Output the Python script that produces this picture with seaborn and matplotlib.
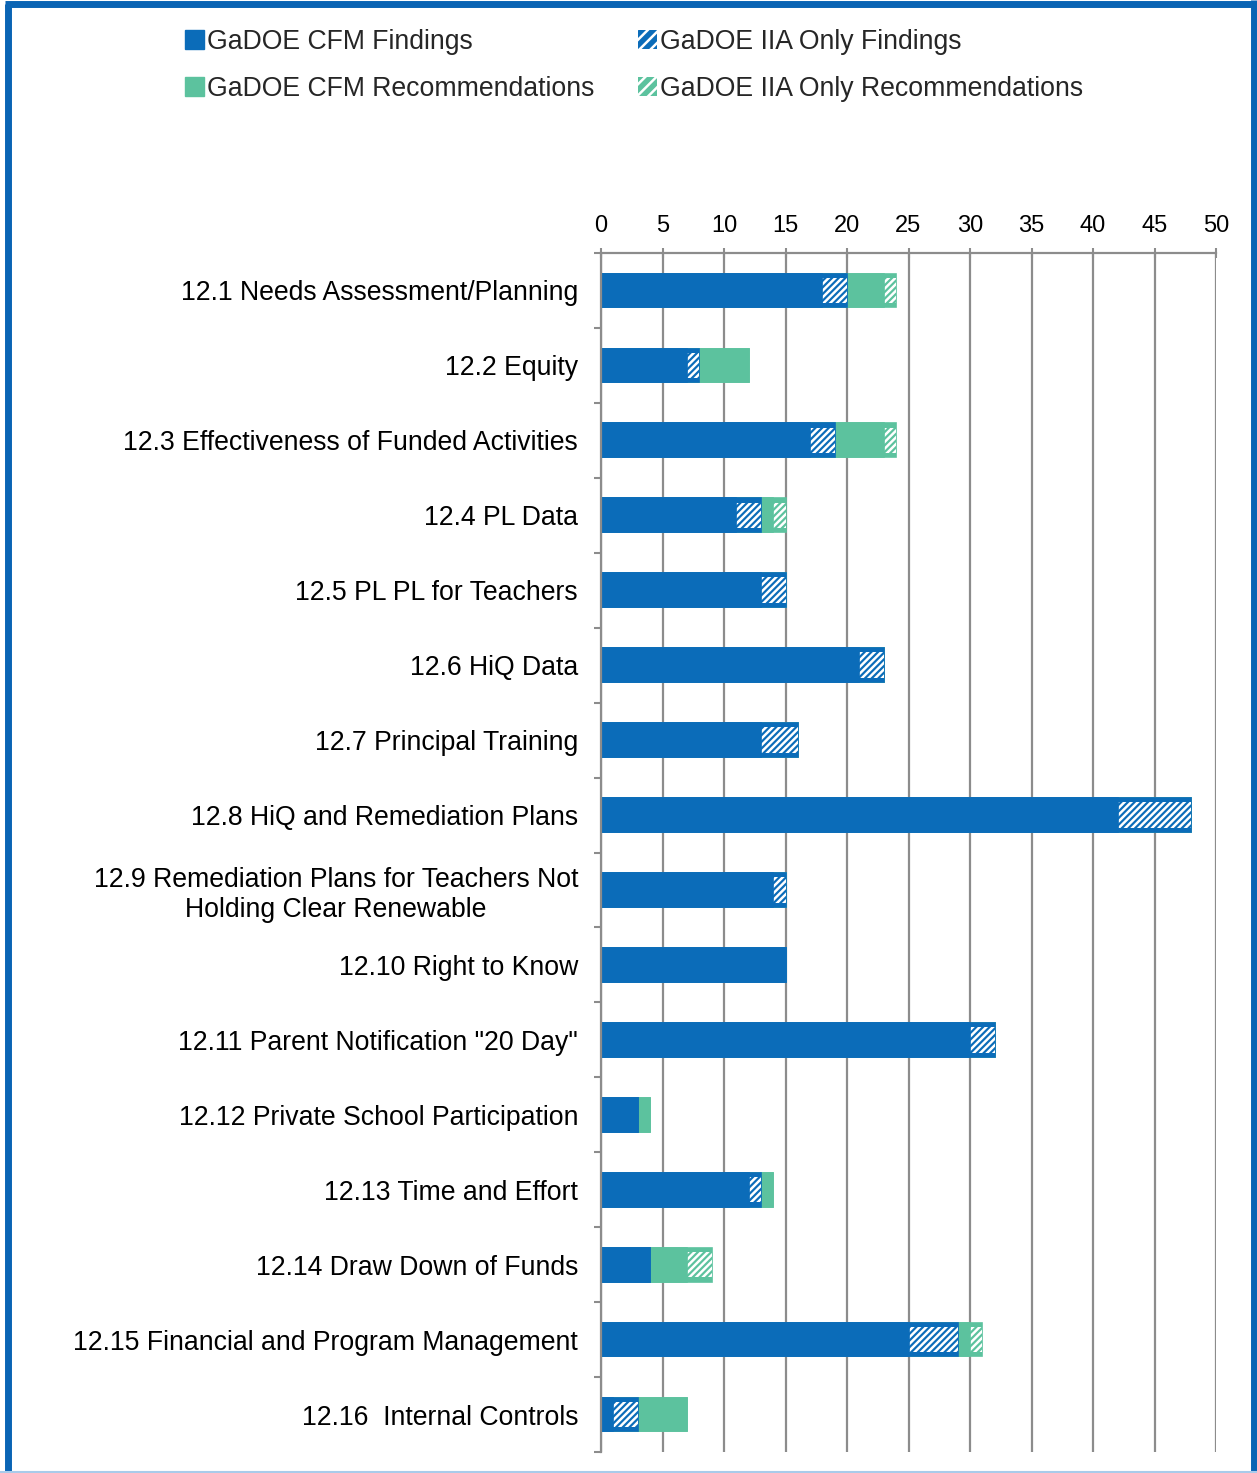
import matplotlib
matplotlib.use("Agg")
import matplotlib.pyplot as plt
import matplotlib.patches as mpatches
from matplotlib.lines import Line2D
import seaborn as sns
import pandas as pd
import numpy as np

categories = [
    "12.1 Needs Assessment/Planning",
    "12.2 Equity",
    "12.3 Effectiveness of Funded Activities",
    "12.4 PL Data",
    "12.5 PL PL for Teachers",
    "12.6 HiQ Data",
    "12.7 Principal Training",
    "12.8 HiQ and Remediation Plans",
    "12.9 Remediation Plans for Teachers Not\nHolding Clear Renewable",
    "12.10 Right to Know",
    "12.11 Parent Notification \"20 Day\"",
    "12.12 Private School Participation",
    "12.13 Time and Effort",
    "12.14 Draw Down of Funds",
    "12.15 Financial and Program Management",
    "12.16  Internal Controls",
]
cfm_findings = [18, 7, 17, 11, 13, 21, 13, 42, 14, 15, 30, 3, 12, 4, 25, 1]
iia_findings = [2, 1, 2, 2, 2, 2, 3, 6, 1, 0, 2, 0, 1, 0, 4, 2]
cfm_recs = [3, 4, 4, 1, 0, 0, 0, 0, 0, 0, 0, 1, 1, 3, 1, 4]
iia_recs = [1, 0, 1, 1, 0, 0, 0, 0, 0, 0, 0, 0, 0, 2, 1, 0]
series_names = ["GaDOE CFM Findings", "GaDOE IIA Only Findings",
                "GaDOE CFM Recommendations", "GaDOE IIA Only Recommendations"]
x_ticks = [0, 5, 10, 15, 20, 25, 30, 35, 40, 45, 50]

BLUE = "#0B6CB9"
GREEN = "#5CC29E"
GRAY = "#8C8C8C"

c1 = np.array(cfm_findings)
c2 = c1 + np.array(iia_findings)
c3 = c2 + np.array(cfm_recs)
c4 = c3 + np.array(iia_recs)
df = pd.DataFrame({"cat": categories, "c1": c1, "c2": c2, "c3": c3, "c4": c4})

sns.set_theme(style="white")
plt.rcParams["font.family"] = ["Liberation Sans", "DejaVu Sans"]
plt.rcParams["hatch.linewidth"] = 1.8

fig = plt.figure(figsize=(12.57, 14.73), dpi=100)
ax = fig.add_axes([601 / 1257, 1 - 1452 / 1473, (1216 - 601) / 1257, (1452 - 253) / 1473])

W = 0.45
WH = 0.34
HATCH = "/////"
# layered cumulative bars (largest first)
sns.barplot(data=df, y="cat", x="c4", color=GREEN, orient="h", width=W, ax=ax,
            saturation=1, edgecolor=GREEN, linewidth=1.2)
sns.barplot(data=df, y="cat", x="c4", orient="h", width=WH, ax=ax, saturation=1,
            facecolor="none", edgecolor="white", linewidth=0, hatch=HATCH)
sns.barplot(data=df, y="cat", x="c3", color=GREEN, orient="h", width=W, ax=ax,
            saturation=1, edgecolor=GREEN, linewidth=1.2)
sns.barplot(data=df, y="cat", x="c2", color=BLUE, orient="h", width=W, ax=ax,
            saturation=1, edgecolor=BLUE, linewidth=1.2)
sns.barplot(data=df, y="cat", x="c2", orient="h", width=WH, ax=ax, saturation=1,
            facecolor="none", edgecolor="white", linewidth=0, hatch=HATCH)
sns.barplot(data=df, y="cat", x="c1", color=BLUE, orient="h", width=W, ax=ax,
            saturation=1, edgecolor=BLUE, linewidth=1.2)

ax.set_xlim(0, 50)
ax.set_ylim(15.5, -0.5)
ax.set_xlabel("")
ax.set_ylabel("")
ax.set_xticks(x_ticks)
ax.xaxis.tick_top()
ax.tick_params(axis="x", which="major", top=True, bottom=False, direction="inout",
               length=7, width=1.5, color=GRAY, labelsize=17, pad=8, labelcolor="black")
ax.tick_params(axis="y", which="major", left=False, length=0, pad=16.5,
               labelsize=19.2, labelcolor="black")
ax.set_yticks(np.arange(-0.5, 16, 1.0), minor=True)
ax.tick_params(axis="y", which="minor", left=True, direction="out", length=5,
               width=1.5, color=GRAY)
for lbl in ax.get_yticklabels():
    lbl.set_multialignment("center")

ax.grid(axis="x", color=GRAY, linewidth=1.6)
ax.grid(axis="y", visible=False)
ax.set_axisbelow(True)
for s in ["right", "bottom"]:
    ax.spines[s].set_visible(False)
for s in ["left", "top"]:
    ax.spines[s].set_color(GRAY)
    ax.spines[s].set_linewidth(1.6)

# legend
handles = [
    mpatches.Patch(facecolor=BLUE, edgecolor=BLUE),
    mpatches.Patch(facecolor=GREEN, edgecolor=GREEN),
    mpatches.Patch(facecolor=BLUE, edgecolor="white", hatch="///", linewidth=0),
    mpatches.Patch(facecolor=GREEN, edgecolor="white", hatch="///", linewidth=0),
]
labels = [series_names[0], series_names[2], series_names[1], series_names[3]]
fig.legend(handles, labels, ncol=2, loc="upper left",
           bbox_to_anchor=(185 / 1257, 1 - 29 / 1473), frameon=False,
           fontsize=19.2, handlelength=0.7, handleheight=0.7, handletextpad=0.12,
           columnspacing=1.65, labelspacing=0.79, borderpad=0, borderaxespad=0)

# outer frame
fc = "#0A64B4"
fig.add_artist(Line2D([7.5 / 1257, 7.5 / 1257], [0, 1 - 4 / 1473], color=fc, lw=5,
                      transform=fig.transFigure, solid_capstyle="butt"))
fig.add_artist(Line2D([5 / 1257, 1], [1 - 4 / 1473, 1 - 4 / 1473], color=fc, lw=5,
                      transform=fig.transFigure, solid_capstyle="butt"))
fig.add_artist(Line2D([1254 / 1257, 1254 / 1257], [0, 1], color=fc, lw=5,
                      transform=fig.transFigure, solid_capstyle="butt"))
fig.add_artist(Line2D([0, 1], [1.5 / 1473, 1.5 / 1473], color="#A9CBEA", lw=1.5,
                      transform=fig.transFigure))

fig.savefig("out.png", dpi=100)
